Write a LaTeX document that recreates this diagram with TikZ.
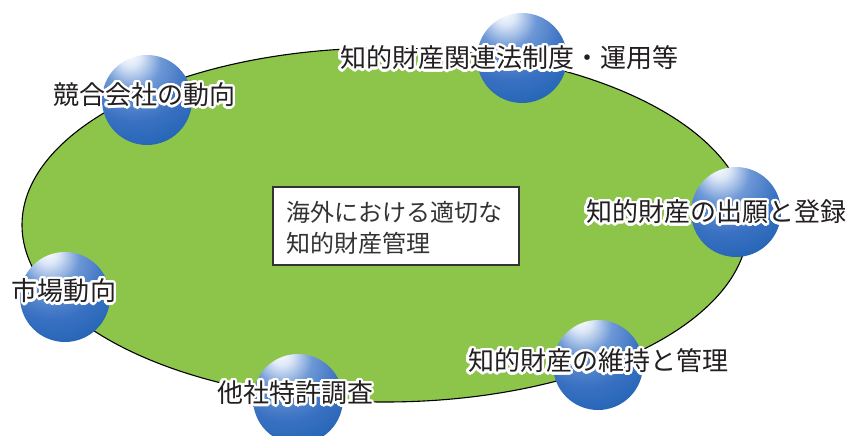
\documentclass[tikz,border=0pt]{standalone}
\usepackage{fontspec}
\setmainfont{Noto Sans CJK JP}
\usepackage[copies]{contour}
\contourlength{2.4pt}
\contournumber{32}
\definecolor{fieldgreen}{HTML}{8DC54B}
\definecolor{labelink}{HTML}{231F20}
\definecolor{boxink}{HTML}{333333}
\definecolor{sA}{HTML}{DCE7F7}
\definecolor{sB}{HTML}{6E98D6}
\definecolor{sC}{HTML}{3A71C2}
\definecolor{sD}{HTML}{175DAE}
\definecolor{sE}{HTML}{1A61B2}
\definecolor{sF}{HTML}{5A8CD0}
\pgfdeclareradialshading{sphereshade}{\pgfpoint{-10bp}{26bp}}{%
  color(0bp)=(white);
  color(6bp)=(sA);
  color(16bp)=(sB);
  color(30bp)=(sC);
  color(50bp)=(sD);
  color(70bp)=(sE);
  color(78bp)=(sF);
  color(100bp)=(sF)}
\tikzset{
  field/.style={draw=black, line width=1.1pt, fill=fieldgreen},
  sphere/.style={circle, minimum size=90pt, inner sep=0pt, shading=sphereshade},
  lbl/.style={inner sep=0pt, text=labelink, font=\fontsize{26}{30}\selectfont},
  centerbox/.style={draw=boxink, line width=1.3pt, fill=white, minimum width=246pt, minimum height=78pt, inner sep=0pt},
  boxtext/.style={inner sep=0pt, text=boxink, align=left, font=\fontsize{24}{31.5}\selectfont}
}
\begin{document}
\begin{tikzpicture}[x=1pt, y=-1pt]
\useasboundingbox (0,0) rectangle (851,436);
% field
\path[field] (385,225) ellipse [x radius=363, y radius=177];
% centre box
\node[centerbox] (box) at (396,226) {};
\node[boxtext, anchor=west] (boxlbl) at (286,228) {海外における適切な\\知的財産管理};
% spheres
\node[sphere] (s1) at (522,58) {};
\node[sphere] (s2) at (147,100) {};
\node[sphere] (s3) at (736,212) {};
\node[sphere] (s4) at (65,297) {};
\node[sphere] (s5) at (298,399) {};
\node[sphere] (s6) at (598,365) {};
% labels
\node[lbl] (l1) at (509,59) {\contour{white}{知的財産関連法制度・運用等}};
\node[lbl] (l2) at (144,96) {\contour{white}{競合会社の動向}};
\node[lbl] (l3) at (716,213) {\contour{white}{知的財産の出願と登録}};
\node[lbl] (l4) at (64,292) {\contour{white}{市場動向}};
\node[lbl] (l5) at (295,394) {\contour{white}{他社特許調査}};
\node[lbl] (l6) at (598,362) {\contour{white}{知的財産の維持と管理}};
\end{tikzpicture}
\end{document}
